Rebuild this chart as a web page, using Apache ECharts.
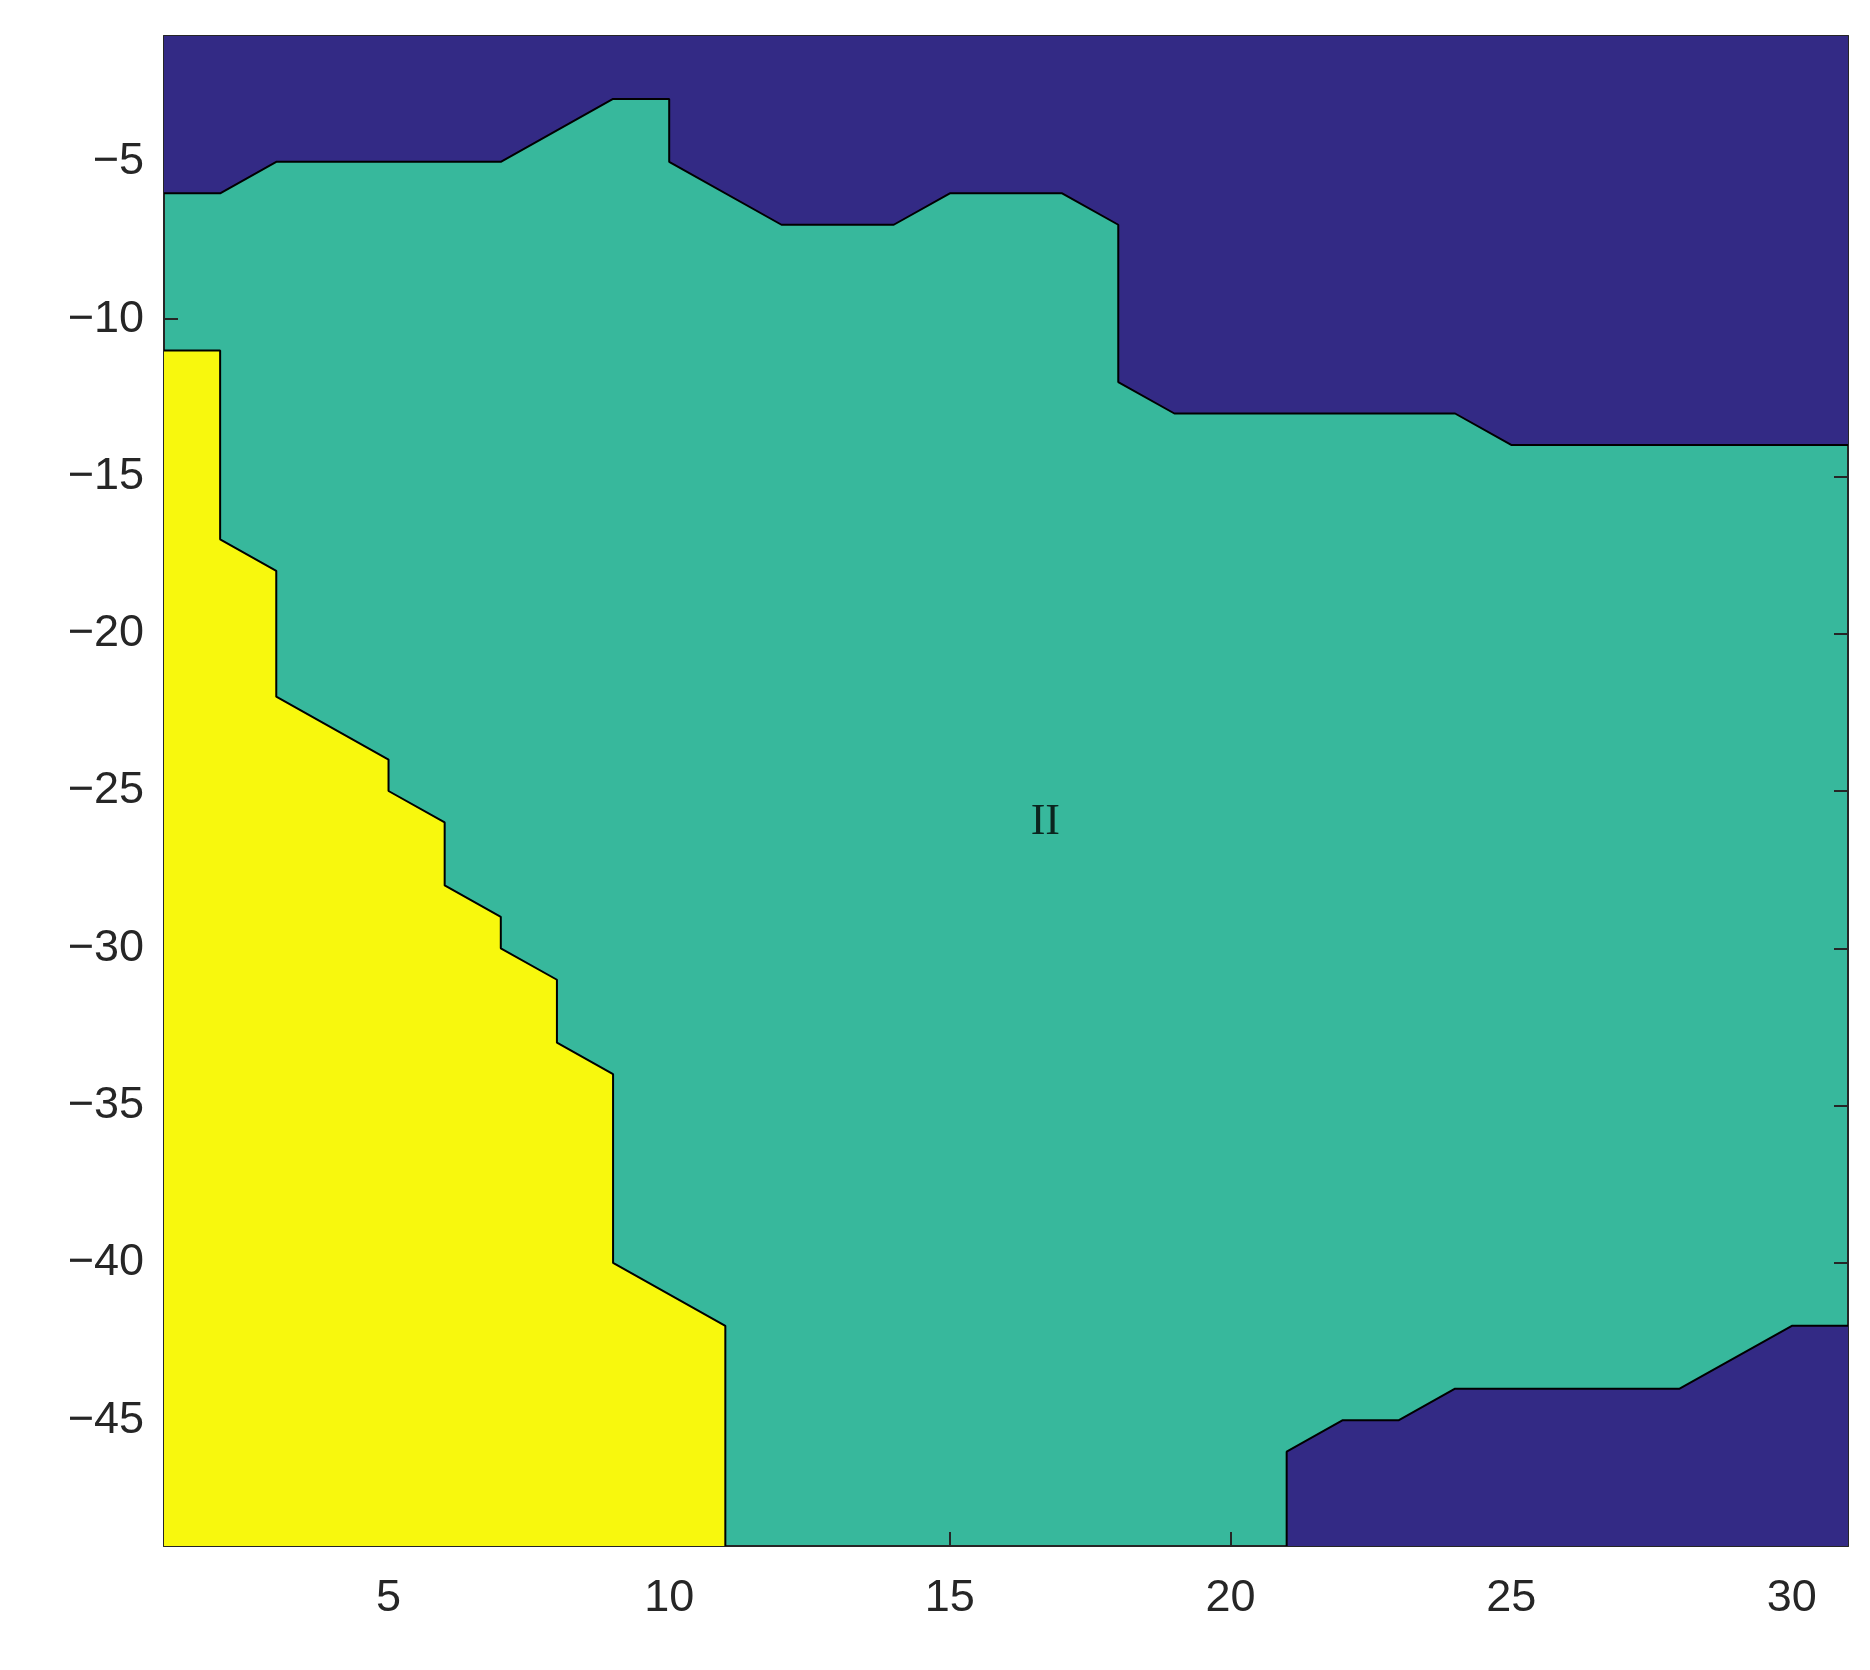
<!DOCTYPE html>
<html>
<head>
<meta charset="utf-8">
<script src="https://cdn.jsdelivr.net/npm/echarts@6/dist/echarts.min.js"></script>
<style>html,body{margin:0;background:#fff}#main{width:1870px;height:1670px}</style>
</head>
<body>
<div id="main"></div>
<script>
// 区域边界 (x, y)
var topBoundary = [[1,-6],[2,-6],[3,-5],[7,-5],[9,-3],[10,-3],[10,-5],[12,-7],[14,-7],[15,-6],[17,-6],[18,-7],[18,-12],[19,-13],[24,-13],[25,-14],[31,-14]];
var yellowBoundary = [[1,-11],[2,-11],[2,-17],[3,-18],[3,-22],[5,-24],[5,-25],[6,-26],[6,-28],[7,-29],[7,-30],[8,-31],[8,-33],[9,-34],[9,-40],[11,-42],[11,-49]];
var bottomBoundary = [[21,-49],[21,-46],[22,-45],[23,-45],[24,-44],[28,-44],[30,-42],[31,-42]];
var regionLabels = [[23,-7,'I'],[16.7,-26,'II'],[4.5,-37,'III']];
var xTicks = [5,10,15,20,25,30];
var yTicks = [-5,-10,-15,-20,-25,-30,-35,-40,-45];

var dark = '#332a85', teal = '#37b89c', yellow = '#f8f80d';
var dom = document.getElementById('main');
var myChart = echarts.init(dom);

function axisCommon(show) {
    return {
        axisLine: {show: true, lineStyle: {color: '#262626', width: 2}},
        axisTick: {show: true, inside: true, length: 14, lineStyle: {color: '#262626', width: 2}},
        splitLine: {show: false},
        axisLabel: {show: show, color: '#262626', fontSize: 45, fontFamily: 'Liberation Sans, Arial',
            formatter: function (v) { return String(v).replace('-', '\u2212'); }}
    };
}

function xAxis(pos, show) {
    var a = axisCommon(show);
    a.type = 'value'; a.min = 1; a.max = 31; a.position = pos;
    a.axisTick.customValues = xTicks; a.axisLabel.customValues = xTicks;
    a.axisLabel.margin = 30;
    return a;
}
function yAxis(pos, show) {
    var a = axisCommon(show);
    a.type = 'value'; a.min = -49; a.max = -1; a.position = pos;
    a.axisTick.customValues = yTicks; a.axisLabel.customValues = yTicks;
    a.axisLabel.margin = 20;
    return a;
}

function region(data, color, origin) {
    return {
        type: 'line', data: data, symbol: 'none', silent: true,
        lineStyle: {color: '#000', width: 2},
        areaStyle: {color: color, opacity: 1, origin: origin}
    };
}

var option = {
    animation: false,
    grid: {left: 164, right: 22, top: 36, bottom: 124, backgroundColor: teal, show: true, borderWidth: 0},
    xAxis: [xAxis('bottom', true), xAxis('top', false)],
    yAxis: [yAxis('left', true), yAxis('right', false)],
    series: [
        region(topBoundary, dark, 'end'),
        region(yellowBoundary, yellow, 'start'),
        region(bottomBoundary, dark, 'start'),
        {
            type: 'scatter', symbolSize: 0, silent: true,
            data: regionLabels.map(function (d) { return {value: [d[0], d[1]], name: d[2]}; }),
            label: {show: true, position: 'inside', formatter: '{b}', color: '#000',
                fontSize: 44, fontFamily: 'Liberation Serif, Times New Roman'}
        }
    ]
};
myChart.setOption(option);
</script>
</body>
</html>
